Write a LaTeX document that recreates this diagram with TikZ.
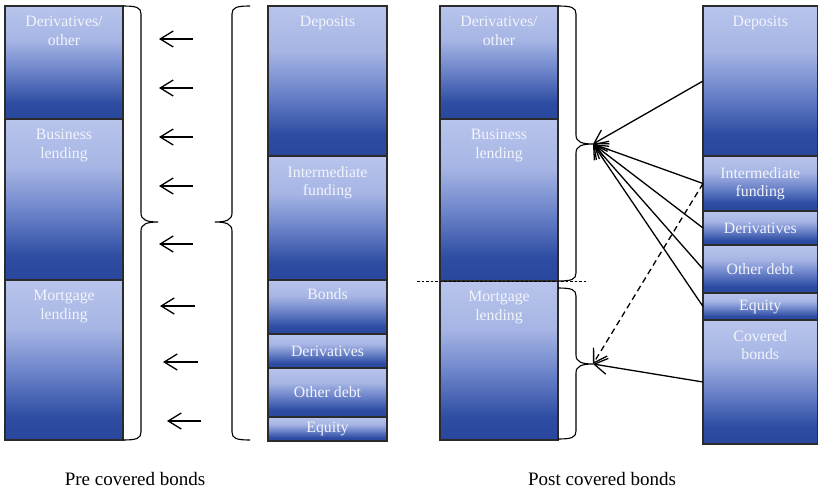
\documentclass[tikz,border=0pt]{standalone}
\usepackage{fontspec}
\setmainfont{Liberation Serif}
\usetikzlibrary{arrows.meta}
\definecolor{bxtop}{HTML}{B8C4EC}
\definecolor{bxa}{HTML}{A6B5E4}
\definecolor{bxb}{HTML}{6F86CB}
\definecolor{bxc}{HTML}{2D4CA2}
\definecolor{bxbot}{HTML}{28479D}
\definecolor{bxline}{HTML}{2B2B2B}
\definecolor{lbltext}{HTML}{F2F4FC}
\pgfdeclareverticalshading{boxshade}{100bp}{color(0bp)=(bxbot); color(25bp)=(bxbot); color(32bp)=(bxc); color(47bp)=(bxb); color(60bp)=(bxa); color(75bp)=(bxtop); color(100bp)=(bxtop)}
\newcommand{\vbrace}[6]{%
 \draw[br] (#1,#4) .. controls ({#1+0.75*(#2-#1)},#4) and (#2,{#4+1.5}) .. (#2,{#4+8})
 -- (#2,{#5-9}) .. controls (#2,{#5-2}) and ({#2+0.35*(#3-#2)},#5) .. (#3,#5)
 .. controls ({#2+0.35*(#3-#2)},#5) and (#2,{#5+2}) .. (#2,{#5+9})
 -- (#2,{#6-8}) .. controls (#2,{#6-1.5}) and ({#1+0.75*(#2-#1)},#6) .. (#1,#6);}
\begin{document}
\begin{tikzpicture}[x=1pt,y=-1pt,
  box/.style={draw=bxline, line width=1.2pt, shading=boxshade, shade, anchor=north west, inner sep=0pt, outer sep=0pt},
  lbl/.style={text=lbltext, font=\fontsize{15.8}{18.5}\selectfont, align=center, inner sep=0pt},
  toplbl/.style={lbl, anchor=north},
  captxt/.style={font=\fontsize{19}{22}\selectfont, inner sep=0pt},
  br/.style={draw=black, line width=1.1pt},
  arr/.style={line width=1.3pt, -{Straight Barb[length=13pt,width=16pt]}},
]
\useasboundingbox (0,0) rectangle (818,489);

% Left column (pre)
\node[box, minimum width=118pt, minimum height=113pt] (L1) at (5,6) {};
\node[box, minimum width=118pt, minimum height=161pt] (L2) at (5,119) {};
\node[box, minimum width=118pt, minimum height=160pt] (L3) at (5,280) {};
\node[toplbl] (L1t) at ([yshift=-10pt]L1.north) {Derivatives/\\other};
\node[toplbl] (L2t) at ([yshift=-10pt]L2.north) {Business\\lending};
\node[toplbl] (L3t) at ([yshift=-10pt]L3.north) {Mortgage\\lending};

% Middle column (pre)
\node[box, minimum width=119pt, minimum height=150pt] (M1) at (268,6) {};
\node[box, minimum width=119pt, minimum height=124pt] (M2) at (268,156) {};
\node[box, minimum width=119pt, minimum height=54pt] (M3) at (268,280) {};
\node[box, minimum width=119pt, minimum height=34pt] (M4) at (268,334) {};
\node[box, minimum width=119pt, minimum height=49pt] (M5) at (268,368) {};
\node[box, minimum width=119pt, minimum height=24pt] (M6) at (268,417) {};
\node[toplbl] (M1t) at ([yshift=-10pt]M1.north) {Deposits};
\node[toplbl] (M2t) at ([yshift=-10pt]M2.north) {Intermediate\\funding};
\node[toplbl] (M3t) at ([yshift=-8pt]M3.north) {Bonds};
\node[lbl] (M4t) at (M4.center) {Derivatives};
\node[lbl] (M5t) at (M5.center) {Other debt};
\node[lbl] (M6t) at (M6.center) {Equity};

% Post column
\node[box, minimum width=118pt, minimum height=113pt] (P1) at (440,6) {};
\node[box, minimum width=118pt, minimum height=162pt] (P2) at (440,119) {};
\node[box, minimum width=118pt, minimum height=159pt] (P3) at (440,281) {};
\node[toplbl] (P1t) at ([yshift=-10pt]P1.north) {Derivatives/\\other};
\node[toplbl] (P2t) at ([yshift=-10pt]P2.north) {Business\\lending};
\node[toplbl] (P3t) at ([yshift=-10pt]P3.north) {Mortgage\\lending};

% Right column (post funding)
\node[box, minimum width=114.5pt, minimum height=150pt] (R1) at (703,6) {};
\node[box, minimum width=114.5pt, minimum height=55pt] (R2) at (703,156) {};
\node[box, minimum width=114.5pt, minimum height=34pt] (R3) at (703,211) {};
\node[box, minimum width=114.5pt, minimum height=48pt] (R4) at (703,245) {};
\node[box, minimum width=114.5pt, minimum height=27pt] (R5) at (703,293) {};
\node[box, minimum width=114.5pt, minimum height=124pt] (R6) at (703,320) {};
\node[toplbl] (R1t) at ([yshift=-10pt]R1.north) {Deposits};
\node[lbl] (R2t) at (R2.center) {Intermediate\\funding};
\node[lbl] (R3t) at (R3.center) {Derivatives};
\node[lbl] (R4t) at (R4.center) {Other debt};
\node[lbl] (R5t) at (R5.center) {Equity};
\node[toplbl] (R6t) at ([yshift=-10pt]R6.north) {Covered\\bonds};

% Braces
\vbrace{123}{141}{158}{6}{222}{440}
\vbrace{250}{232}{215}{6}{222}{440}
\vbrace{558}{576}{593}{6}{144}{281}
\vbrace{558}{576}{593}{288}{364}{439}

% Left arrows
\coordinate (a1s) at (193,39);  \coordinate (a1e) at (159,39);
\coordinate (a2s) at (193,88);  \coordinate (a2e) at (159,88);
\coordinate (a3s) at (193,137); \coordinate (a3e) at (159,137);
\coordinate (a4s) at (193,186); \coordinate (a4e) at (159,186);
\coordinate (a5s) at (193,244); \coordinate (a5e) at (159,244);
\coordinate (a6s) at (195,306); \coordinate (a6e) at (160,306);
\coordinate (a7s) at (198,362); \coordinate (a7e) at (163,362);
\coordinate (a8s) at (201,421); \coordinate (a8e) at (167,421);
\foreach \i in {1,...,8} {\draw[arr] (a\i s) -- (a\i e);}

% Dotted separator
\coordinate (d1) at (417,281);
\coordinate (d2) at (588,281);
\draw[line width=0.9pt, dash pattern=on 2.5pt off 2pt] (d1) -- (d2);

% Right arrows
\coordinate (tipA) at (593,144);
\coordinate (tipB) at (593,364);
\draw[arr] (R1.west) -- (tipA);
\draw[arr] (R2.west) -- (tipA);
\draw[arr] (R3.west) -- (tipA);
\draw[arr] (R4.west) -- (tipA);
\draw[arr] (R5.west) -- (tipA);
\draw[arr] (R6.west) -- (tipB);
\draw[arr, dash pattern=on 6pt off 4pt] (R2.west) -- (tipB);

% Captions
\node[captxt] (capPre) at (135,479) {Pre covered bonds};
\node[captxt] (capPost) at (602,479) {Post covered bonds};
\end{tikzpicture}
\end{document}
